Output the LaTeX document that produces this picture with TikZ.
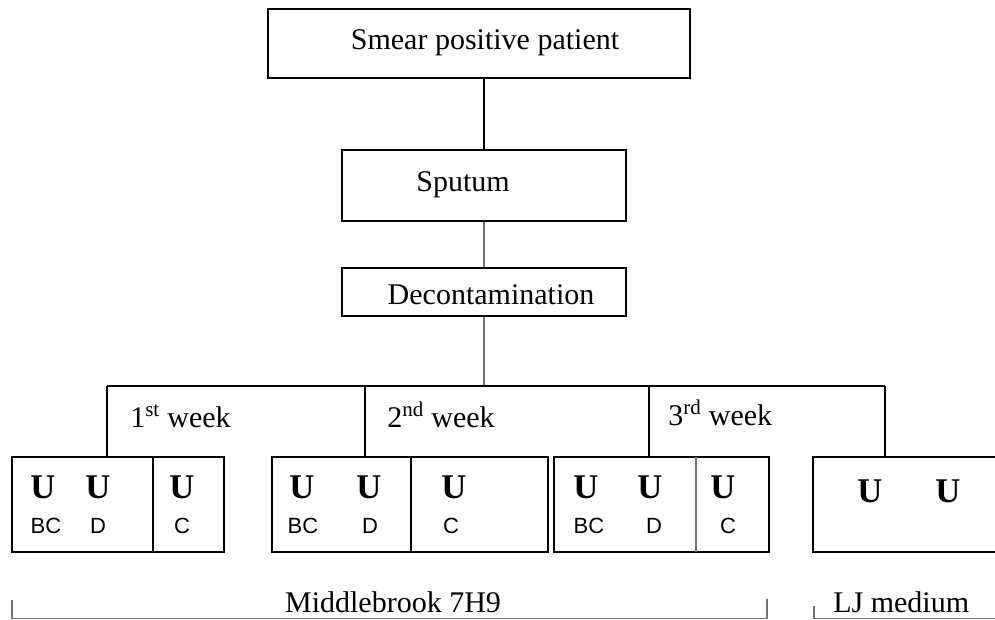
\documentclass[tikz,border=0pt]{standalone}
\usepackage{fontspec}
\setmainfont{Liberation Serif}
\setsansfont{Liberation Sans}
\begin{document}
\begin{tikzpicture}[x=0.75pt,y=-0.75pt,
  box/.style={draw=black,line width=1.1pt,rectangle,inner sep=0pt},
  conn/.style={line width=1.1pt,draw=black},
  gconn/.style={line width=1.1pt,draw=black!55},
  lbl/.style={font=\fontsize{22.5}{26}\selectfont,inner sep=0pt,anchor=base},
  bu/.style={font=\fontsize{26}{29}\selectfont\bfseries,inner sep=0pt,anchor=base},
  sm/.style={font=\fontsize{16.5}{19}\selectfont\sffamily,inner sep=0pt,anchor=base}]
\clip (0,0) rectangle (995,620);
\fill[white] (0,0) rectangle (995,620);
% main chain
\node[box,minimum width=422*0.75pt,minimum height=69*0.75pt] (top) at (479,43.5) {};
\node[box,minimum width=284*0.75pt,minimum height=71*0.75pt] (sputum) at (484,185.5) {};
\node[box,minimum width=284*0.75pt,minimum height=48*0.75pt] (decon) at (484,292) {};
\node[lbl] (ttop) at (485,50) {Smear positive patient};
\node[lbl] (tsput) at (463,192) {Sputum};
\node[lbl] (tdecon) at (491,304) {Decontamination};
% culture boxes
\node[box,minimum width=212*0.75pt,minimum height=95*0.75pt] (b1) at (118,504.5) {};
\node[box,minimum width=276*0.75pt,minimum height=95*0.75pt] (b2) at (410,504.5) {};
\node[box,minimum width=215*0.75pt,minimum height=95*0.75pt] (b3) at (661.5,504.5) {};
\node[box,minimum width=200*0.75pt,minimum height=95*0.75pt] (b4) at (913,504.5) {};
\draw[conn] (153,457) -- (153,552);
\draw[conn] (411,457) -- (411,552);
\draw[gconn] (696,457) -- (696,552);
% connectors
\coordinate (bar) at (484,386);
\coordinate (j1) at (107,386);
\coordinate (j2) at (365,386);
\coordinate (j3) at (649,386);
\coordinate (j4) at (885,386);
\draw[conn] (top.south -| sputum.north) -- (sputum.north);
\draw[gconn] (sputum.south) -- (decon.north);
\draw[gconn] (decon.south) -- (bar);
\draw[conn] (j1) -- (j4);
\draw[conn] (j1) -- (j1 |- b1.north);
\draw[conn] (j2) -- (j2 |- b2.north);
\draw[conn] (j3) -- (j3 |- b3.north);
\draw[conn] (j4) -- (j4 |- b4.north);
% week labels
\node[lbl,anchor=base west] (w1) at (130,427) {1\textsuperscript{st} week};
\node[lbl,anchor=base west] (w2) at (387,427) {2\textsuperscript{nd} week};
\node[lbl,anchor=base west] (w3) at (668,425) {3\textsuperscript{rd} week};
% box contents
\node[bu] (u11) at (43,498) {U};
\node[bu] (u12) at (98,498) {U};
\node[bu] (u13) at (182,498) {U};
\node[sm] (s11) at (46,533) {BC};
\node[sm] (s12) at (98,533) {D};
\node[sm] (s13) at (182,533) {C};
\node[bu] (u21) at (302,498) {U};
\node[bu] (u22) at (369,498) {U};
\node[bu] (u23) at (454,498) {U};
\node[sm] (s21) at (303,533) {BC};
\node[sm] (s22) at (370,533) {D};
\node[sm] (s23) at (451,533) {C};
\node[bu] (u31) at (586,498) {U};
\node[bu] (u32) at (650,498) {U};
\node[bu] (u33) at (723,498) {U};
\node[sm] (s31) at (589,533) {BC};
\node[sm] (s32) at (654,533) {D};
\node[sm] (s33) at (728,533) {C};
\node[bu] (u41) at (870,502) {U};
\node[bu] (u42) at (948,502) {U};
% bottom brackets
\draw[gconn,line width=0.9pt] (12,600) -- (12,618.5) -- (767,618.5) -- (767,599);
\draw[gconn,line width=0.9pt] (814,606) -- (814,618.5) -- (1000,618.5);
\node[lbl] (mb) at (393,612) {Middlebrook 7H9};
\node[lbl,anchor=base west] (lj) at (833,612) {LJ medium};
\end{tikzpicture}
\end{document}
